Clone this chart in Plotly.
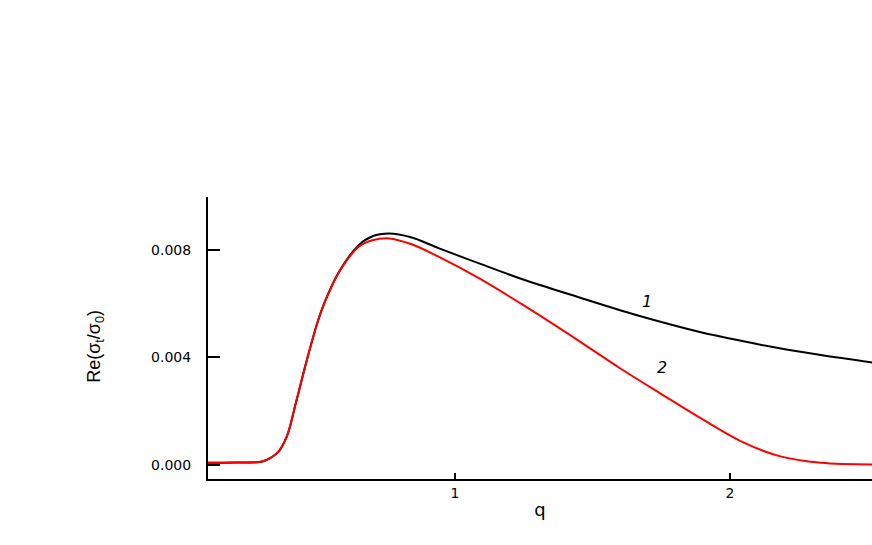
import plotly.graph_objects as go

# -----------------------------------------------------
# data
# -----------------------------------------------------

q = [0.10, 0.20, 0.30, 0.33, 0.36, 0.39, 0.42, 0.46, 0.50, 0.53, 0.58,
     0.65, 0.70, 0.76, 0.84, 0.94, 1.09, 1.24, 1.45, 1.60, 1.75, 1.89,
     2.04, 2.18, 2.33, 2.52]

curve_1 = [0.00008, 0.00009, 0.00013, 0.00027, 0.00052, 0.0011, 0.00225,
           0.00385, 0.00530, 0.00615, 0.00722, 0.00818, 0.00851, 0.00861,
           0.00847, 0.00807, 0.00749, 0.00693, 0.00624, 0.00576, 0.00532,
           0.00495, 0.00462, 0.00434, 0.00409, 0.00381]

curve_2 = [0.00008, 0.00009, 0.00013, 0.00027, 0.00052, 0.0011, 0.00225,
           0.00385, 0.00530, 0.00615, 0.00720, 0.00812, 0.00836, 0.00843,
           0.00822, 0.00775, 0.00693, 0.00600, 0.00462, 0.00360, 0.00264,
           0.00176, 0.00088, 0.00033, 0.00008, 0.00002]

curve_labels = ["1", "2"]
label_q = [1.698, 1.753]
label_val = [0.0061, 0.00361]

FONT = "DejaVu Sans, Liberation Sans, sans-serif"

fig = go.Figure()

fig.add_trace(
    go.Scatter(
        x=q,
        y=curve_1,
        mode="lines",
        name="1",
        line=dict(color="black", width=2, shape="spline", smoothing=1.0)
    )
)

fig.add_trace(
    go.Scatter(
        x=q,
        y=curve_2,
        mode="lines",
        name="2",
        line=dict(color="#ff0000", width=2, shape="spline", smoothing=1.0)
    )
)

for txt, xx, yy in zip(curve_labels, label_q, label_val):
    fig.add_annotation(
        x=xx, y=yy, text="<i>" + txt + "</i>",
        showarrow=False,
        font=dict(family=FONT, size=16, color="black")
    )

# y title as a rotated annotation
fig.add_annotation(
    xref="paper", yref="paper",
    x=-0.19, y=0.47,
    text="Re(σ<sub>t</sub>/σ<sub>0</sub>)",
    textangle=-90,
    showarrow=False,
    font=dict(family="Liberation Sans Narrow, Liberation Sans, sans-serif",
              size=18, color="black")
)

fig.update_layout(
    width=872,
    height=545,
    margin=dict(l=208, r=0, t=197, b=66),
    paper_bgcolor="white",
    plot_bgcolor="white",
    showlegend=False,
    font=dict(family=FONT, size=14, color="black")
)

fig.update_xaxes(
    range=[0.102, 2.516],
    tickvals=[1, 2],
    ticktext=["1", "2"],
    ticks="inside",
    ticklen=6,
    tickwidth=2,
    tickcolor="black",
    showgrid=False,
    zeroline=False,
    showline=True,
    linecolor="black",
    linewidth=2,
    title=dict(text="q", font=dict(size=18), standoff=4)
)

fig.update_yaxes(
    range=[-0.00052, 0.00997],
    tickvals=[0.0, 0.004, 0.008],
    ticktext=["0.000", "0.004", "0.008"],
    ticks="inside",
    ticklen=12,
    tickwidth=1.5,
    tickcolor="black",
    ticklabelstandoff=12,
    showgrid=False,
    zeroline=False,
    showline=True,
    linecolor="black",
    linewidth=2
)

fig.write_html(
    "out.html",
    config={"displayModeBar": False},
    post_script="document.body.style.margin='0px';"
)
